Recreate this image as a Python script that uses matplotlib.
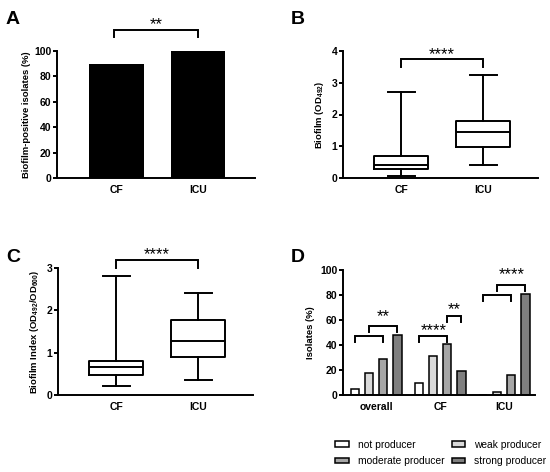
import numpy as np
import matplotlib
matplotlib.use("Agg")
import matplotlib.pyplot as plt
from matplotlib.patches import Patch

plt.rcParams['font.family'] = ['Liberation Sans', 'DejaVu Sans']
plt.rcParams['mathtext.fontset'] = 'custom'
plt.rcParams['mathtext.rm'] = 'Liberation Sans:bold'
plt.rcParams['mathtext.bf'] = 'Liberation Sans:bold'
plt.rcParams['mathtext.default'] = 'bf'

# data
groups = ['CF', 'ICU']
positive_pct = [90, 100]

# box stats: low whisker, q1, median, q3, high whisker
od492 = {'CF': [0.07, 0.28, 0.42, 0.68, 2.7],
         'ICU': [0.40, 0.98, 1.45, 1.78, 3.25]}
bf_index = {'CF': [0.22, 0.48, 0.65, 0.80, 2.8],
            'ICU': [0.35, 0.90, 1.27, 1.78, 2.4]}

d_groups = ['overall', 'CF', 'ICU']
categories = ['not producer', 'weak producer', 'moderate producer', 'strong producer']
not_prod = [5, 9.5, 0]
weak_prod = [17.5, 31, 2.5]
moderate_prod = [29, 40.5, 16]
strong_prod = [48, 19, 81]
cat_colors = ['white', '#d9d9d9', '#a6a6a6', '#7f7f7f']

W, H = 550, 472
fig = plt.figure(figsize=(W / 100, H / 100), dpi=100)

TICK_FS = 7.5
LAB_FS = 6.8
STAR_FS = 12


def px_axes(left, right, top, bottom):
    return fig.add_axes([left / W, 1 - bottom / H, (right - left) / W, (bottom - top) / H])


def style(ax):
    for s in ['top', 'right']:
        ax.spines[s].set_visible(False)
    for s in ['left', 'bottom']:
        ax.spines[s].set_linewidth(1.4)
    ax.tick_params(axis='y', length=3, width=1.4, labelsize=TICK_FS, pad=1)
    ax.tick_params(axis='x', length=0, labelsize=TICK_FS, pad=5)
    for lab in ax.get_xticklabels() + ax.get_yticklabels():
        lab.set_fontweight('bold')


def bracket(ax, x1, x2, y, leg, text=None, ty=None):
    ax.plot([x1, x1, x2, x2], [y - leg, y, y, y - leg], color='black', lw=1.4,
            clip_on=False, solid_joinstyle='miter')
    if text:
        ax.text((x1 + x2) / 2, ty, text, ha='center', va='center',
                fontsize=STAR_FS, clip_on=False)


def boxes(ax, data):
    stats = []
    for g in groups:
        lo, q1, med, q3, hi = data[g]
        stats.append(dict(whislo=lo, q1=q1, med=med, q3=q3, whishi=hi, fliers=[], label=g))
    ax.bxp(stats, positions=[1, 2], widths=0.66, showfliers=False,
           boxprops=dict(lw=1.4), whiskerprops=dict(lw=1.4), capprops=dict(lw=1.4),
           medianprops=dict(color='black', lw=1.4))


# A
axA = px_axes(57, 255, 51, 178)
axA.bar([1, 2], positive_pct, width=0.67, color='black')
axA.set_xlim(0.27, 2.70)
axA.set_ylim(0, 100)
axA.set_yticks(range(0, 101, 20))
axA.set_xticks([1, 2], groups)
axA.set_ylabel('Biofilm-positive isolates (%)', fontsize=LAB_FS, fontweight='bold', labelpad=2)
style(axA)
bracket(axA, 0.97, 2.0, 116.5, 5.5, '**', 121)

# B
axB = px_axes(343, 538, 51, 178)
boxes(axB, od492)
axB.set_xlim(0.29, 2.67)
axB.set_ylim(0, 4)
axB.set_yticks(range(0, 5))
axB.set_xticks([1, 2], groups)
axB.set_ylabel('Biofilm (OD$_{492}$)', fontsize=LAB_FS, fontweight='bold', labelpad=4)
style(axB)
bracket(axB, 1, 2, 3.74, 0.24, '****', 3.90)

# C
axC = px_axes(58, 253, 268, 395)
boxes(axC, bf_index)
axC.set_xlim(0.29, 2.67)
axC.set_ylim(0, 3)
axC.set_yticks(range(0, 4))
axC.set_xticks([1, 2], groups)
axC.set_ylabel('Biofilm Index (OD$_{492}$/OD$_{600}$)', fontsize=LAB_FS, fontweight='bold', labelpad=4)
style(axC)
bracket(axC, 1, 2, 3.19, 0.19, '****', 3.31)

# D
axD = px_axes(343, 535, 270, 395)
x = np.arange(len(d_groups))
step = 0.22
series = [not_prod, weak_prod, moderate_prod, strong_prod]
handles = []
for i, (vals, c, name) in enumerate(zip(series, cat_colors, categories)):
    off = (i - 1.5) * step
    axD.bar(x + off, vals, width=0.13, color=c, edgecolor='black', linewidth=1.1)
    handles.append(Patch(facecolor=c, edgecolor='black', linewidth=1.1, label=name))
axD.set_xlim(-0.52, 2.48)
axD.set_ylim(0, 100)
axD.set_yticks(range(0, 101, 20))
axD.set_xticks(x, d_groups)
axD.set_ylabel('Isolates (%)', fontsize=LAB_FS, fontweight='bold', labelpad=4)
style(axD)
o = [(i - 1.5) * step for i in range(4)]
bracket(axD, 0 + o[0], 0 + o[2], 47.3, 4.8)
bracket(axD, 0 + o[1], 0 + o[3], 55.3, 4.8, '**', 62.5)
bracket(axD, 1 + o[0], 1 + o[2], 47.3, 4.8, '****', 51.5)
bracket(axD, 1 + o[2], 1 + o[3], 63.3, 4.8, '**', 68.5)
bracket(axD, 2 + o[0], 2 + o[2], 80, 5)
bracket(axD, 2 + o[1], 2 + o[3], 88, 5, '****', 96.5)

order = [handles[0], handles[2], handles[1], handles[3]]
fig.legend(handles=order, loc='center', bbox_to_anchor=(441 / W, 1 - 453 / H), ncol=2,
           frameon=False, fontsize=7.4, handlelength=1.3, handleheight=0.45,
           columnspacing=0.7, handletextpad=0.9, labelspacing=0.6)

for lbl, (lx, ly) in zip('ABCD', [(6, 19), (291, 19), (6, 258), (291, 258)]):
    fig.text(lx / W, 1 - ly / H, lbl, fontsize=14, fontweight='bold', va='center', ha='left')

fig.savefig('out.png', dpi=100)
